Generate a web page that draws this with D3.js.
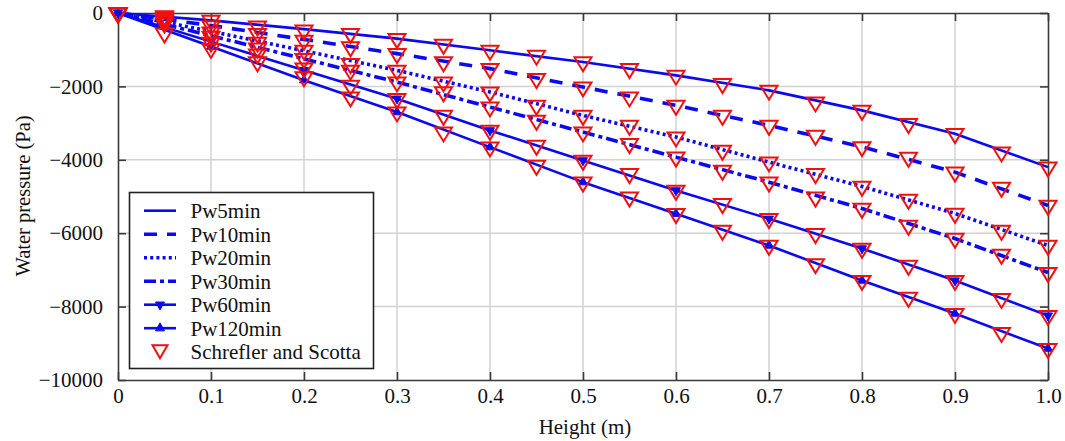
<!DOCTYPE html>
<html>
<head>
<meta charset="utf-8">
<script src="https://cdn.jsdelivr.net/npm/d3@7"></script>
<style>
  html, body { margin: 0; padding: 0; background: #fff; }
  svg { display: block; }
  svg text { font-family: 'Liberation Serif', 'Times New Roman', serif; }
</style>
</head>
<body>
<svg id="chart" width="1065" height="441"></svg>
<script>
// Simulated pore water pressure profiles (every 0.1 m)
const simHeights = [0, 0.1, 0.2, 0.3, 0.4, 0.5, 0.6, 0.7, 0.8, 0.9, 1.0];
const pw5min   = [0, -200, -440, -698, -1017, -1336, -1699, -2108, -2653, -3289, -4200];
const pw10min  = [0, -340, -720, -1107, -1516, -2018, -2517, -3062, -3646, -4336, -5244];
const pw20min  = [0, -500, -1030, -1563, -2154, -2790, -3381, -4063, -4726, -5462, -6335];
const pw30min  = [0, -620, -1250, -1882, -2563, -3245, -3927, -4609, -5326, -6145, -7072];
const pw60min  = [0, -780, -1560, -2334, -3199, -4017, -4835, -5607, -6417, -7290, -8245];
const pw120min = [0, -915, -1830, -2700, -3654, -4609, -5470, -6335, -7290, -8190, -9144];

// Schrefler and Scotta reference solution (every 0.05 m)
const refHeights = [0, 0.05, 0.1, 0.15, 0.2, 0.25, 0.3, 0.35, 0.4, 0.45, 0.5,
                    0.55, 0.6, 0.65, 0.7, 0.75, 0.8, 0.85, 0.9, 0.95, 1.0];
const ref5   = [0, -80, -200, -360, -470, -560, -698, -855, -1017, -1153, -1336, -1516, -1699, -1925, -2108, -2427, -2653, -3016, -3289, -3790, -4200];
const ref10  = [0, -120, -350, -560, -745, -927, -1107, -1333, -1516, -1789, -2018, -2291, -2517, -2790, -3062, -3335, -3646, -3935, -4336, -4753, -5244];
const ref20  = [0, -170, -520, -800, -1017, -1380, -1563, -1882, -2154, -2517, -2790, -3062, -3381, -3744, -4063, -4380, -4726, -5080, -5462, -5926, -6335];
const ref30  = [0, -210, -640, -960, -1243, -1563, -1882, -2150, -2563, -2926, -3245, -3562, -3927, -4290, -4609, -5018, -5326, -5790, -6145, -6581, -7072];
const ref60  = [0, -280, -800, -1120, -1500, -1972, -2334, -2790, -3199, -3608, -4017, -4380, -4835, -5198, -5607, -6016, -6417, -6880, -7290, -7781, -8245];
const ref120 = [0, -550, -970, -1336, -1745, -2290, -2700, -3245, -3654, -4153, -4609, -5018, -5470, -5926, -6335, -6834, -7290, -7753, -8190, -8708, -9144];

// Axis ticks
const xTicks = [0, 0.1, 0.2, 0.3, 0.4, 0.5, 0.6, 0.7, 0.8, 0.9, 1.0];
const xTickLabels = ["0", "0.1", "0.2", "0.3", "0.4", "0.5", "0.6", "0.7", "0.8", "0.9", "1.0"];
const yTicks = [0, -2000, -4000, -6000, -8000, -10000];
const yTickLabels = ["0", "\u22122000", "\u22124000", "\u22126000", "\u22128000", "\u221210000"];

const seriesNames = ["Pw5min", "Pw10min", "Pw20min", "Pw30min", "Pw60min", "Pw120min"];
const refName = "Schrefler and Scotta";

const BLUE = "#0a0af0";
const RED = "#f01010";

const styles = [
  { dash: null,        width: 2.6, marker: null },
  { dash: "13,10",     width: 3.6, marker: null },
  { dash: "3,3.2",     width: 3.6, marker: null },
  { dash: "12,4,4,4",  width: 3.6, marker: null },
  { dash: null,        width: 2.6, marker: "down" },
  { dash: null,        width: 2.6, marker: "up" }
];

const simSeries = [pw5min, pw10min, pw20min, pw30min, pw60min, pw120min];
const refSeries = [ref5, ref10, ref20, ref30, ref60, ref120];

const svg = d3.select("#chart");
const L = 118, R = 1048, T = 13, B = 380;
const x = d3.scaleLinear().domain([0, 1]).range([L, R]);
const y = d3.scaleLinear().domain([-10000, 0]).range([B, T]);

// Grid
const grid = svg.append("g").attr("stroke", "#d2d2d2").attr("stroke-width", 1.5);
xTicks.slice(1, -1).forEach(t => grid.append("line")
  .attr("x1", x(t)).attr("x2", x(t)).attr("y1", T).attr("y2", B));
yTicks.slice(1, -1).forEach(t => grid.append("line")
  .attr("x1", L).attr("x2", R).attr("y1", y(t)).attr("y2", y(t)));

// Axes box with inward ticks on all sides
const axisColor = "#3a3a3a";
const tickLen = 8;
const bottomAxis = d3.axisBottom(x).tickValues(xTicks).tickSizeInner(-tickLen).tickSizeOuter(0)
  .tickFormat((d, i) => xTickLabels[i]).tickPadding(8);
const leftAxis = d3.axisLeft(y).tickValues(yTicks).tickSizeInner(-tickLen).tickSizeOuter(0)
  .tickFormat((d, i) => yTickLabels[i]).tickPadding(15);
const topAxis = d3.axisTop(x).tickValues(xTicks).tickSizeInner(-tickLen).tickSizeOuter(0).tickFormat("");
const rightAxis = d3.axisRight(y).tickValues(yTicks).tickSizeInner(-tickLen).tickSizeOuter(0).tickFormat("");

function styleAxis(g) {
  g.attr("font-family", null).attr("font-size", null);
  g.select(".domain").attr("stroke", axisColor).attr("stroke-width", 1.6);
  g.selectAll(".tick line").attr("stroke", axisColor).attr("stroke-width", 1.6);
  g.selectAll(".tick text").attr("fill", "#111").style("font-size", "21px");
}
svg.append("g").attr("transform", `translate(0,${B})`).call(bottomAxis).call(styleAxis);
svg.append("g").attr("transform", `translate(${L},0)`).call(leftAxis).call(styleAxis);
svg.append("g").attr("transform", `translate(0,${T})`).call(topAxis).call(styleAxis);
svg.append("g").attr("transform", `translate(${R},0)`).call(rightAxis).call(styleAxis);

// Simulation lines
const lineGen = d3.line().x(d => x(d[0])).y(d => y(d[1]));
const triDown = (cx, cy, w, h) => `M${cx - w / 2},${cy - h / 3}L${cx + w / 2},${cy - h / 3}L${cx},${cy + 2 * h / 3}Z`;
const triUp = (cx, cy, w, h) => `M${cx - w / 2},${cy + h / 3}L${cx + w / 2},${cy + h / 3}L${cx},${cy - 2 * h / 3}Z`;

simSeries.forEach((vals, i) => {
  const pts = simHeights.map((h, j) => [h, vals[j]]);
  svg.append("path").attr("d", lineGen(pts))
    .attr("fill", "none").attr("stroke", BLUE)
    .attr("stroke-width", styles[i].width)
    .attr("stroke-dasharray", styles[i].dash)
    .attr("stroke-linejoin", "round");
  if (styles[i].marker) {
    const f = styles[i].marker === "down" ? triDown : triUp;
    svg.append("g").selectAll("path").data(pts).join("path")
      .attr("d", d => f(x(d[0]), y(d[1]), 9, 8))
      .attr("fill", BLUE).attr("stroke", BLUE).attr("stroke-width", 1);
  }
});

// Reference markers (open down-pointing triangles)
refSeries.forEach(vals => {
  svg.append("g").selectAll("path").data(refHeights.map((h, j) => [h, vals[j]])).join("path")
    .attr("d", d => triDown(x(d[0]), y(d[1]), 17, 14))
    .attr("fill", "none").attr("stroke", RED).attr("stroke-width", 2)
    .attr("stroke-linejoin", "miter");
});

// Axis titles
svg.append("text").attr("x", 585).attr("y", 434)
  .attr("text-anchor", "middle").style("font-size", "21px").attr("fill", "#111")
  .text("Height (m)");
svg.append("text").attr("transform", "translate(30,196) rotate(-90)")
  .attr("text-anchor", "middle").style("font-size", "20.5px").attr("fill", "#111")
  .text("Water pressure (Pa)");

// Legend
const lg = svg.append("g");
lg.append("rect").attr("x", 129.5).attr("y", 192.5).attr("width", 244).attr("height", 176)
  .attr("fill", "#fff").attr("stroke", "#222").attr("stroke-width", 1.6);
const rowY = i => 210.7 + i * 23.5;
seriesNames.forEach((name, i) => {
  const yy = rowY(i);
  lg.append("line").attr("x1", 144).attr("x2", 176).attr("y1", yy).attr("y2", yy)
    .attr("stroke", BLUE).attr("stroke-width", styles[i].width)
    .attr("stroke-dasharray", styles[i].dash);
  if (styles[i].marker) {
    const f = styles[i].marker === "down" ? triDown : triUp;
    lg.append("path").attr("d", f(160, yy, 9, 8)).attr("fill", BLUE).attr("stroke", BLUE);
  }
  lg.append("text").attr("x", 190.5).attr("y", yy).attr("dy", "0.35em")
    .style("font-size", "21px").attr("fill", "#111").text(name);
});
{
  const yy = rowY(6);
  lg.append("path").attr("d", triDown(160, yy - 2, 15, 13)).attr("fill", "none")
    .attr("stroke", RED).attr("stroke-width", 2);
  lg.append("text").attr("x", 190.5).attr("y", yy).attr("dy", "0.35em")
    .style("font-size", "21px").attr("fill", "#111").text(refName);
}
</script>
</body>
</html>
